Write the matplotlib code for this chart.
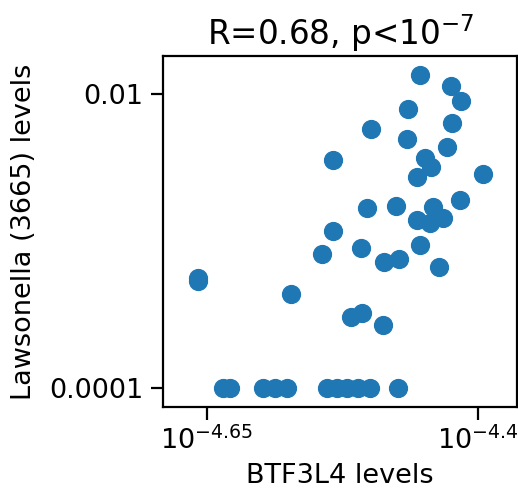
import numpy as np
import matplotlib
matplotlib.use('Agg')
import matplotlib.pyplot as plt
from matplotlib.ticker import NullLocator

# log10 of BTF3L4 levels and Lawsonella (3665) levels
log_btf = [-4.453, -4.4246, -4.4157, -4.4643, -4.4981, -4.424, -4.4655, -4.4286,
           -4.5338, -4.4486, -4.4431, -4.4557, -4.3957, -4.4169, -4.5018, -4.4757,
           -4.4415, -4.4563, -4.444, -4.4326, -4.5338, -4.5436, -4.5079, -4.453,
           -4.4864, -4.4723, -4.4357, -4.6577, -4.6577, -4.5722, -4.5169, -4.507,
           -4.487,
           -4.6352, -4.6285, -4.5984, -4.5873, -4.5762, -4.5394, -4.5301, -4.5209,
           -4.5102, -4.4994, -4.4739]
log_law = [-1.868, -1.941, -2.043, -2.102, -2.236, -2.197, -2.302, -2.361,
           -2.449, -2.435, -2.497, -2.560, -2.540, -2.717, -2.771, -2.762,
           -2.769, -2.857, -2.878, -2.844, -2.928, -3.086, -3.048, -3.025,
           -3.139, -3.123, -3.173, -3.247, -3.270, -3.359, -3.513, -3.486,
           -3.569,
           -4, -4, -4, -4, -4, -4, -4, -4, -4, -4, -4]

x_ticks = [-4.65, -4.4]
x_labels = ['$10^{-4.65}$', '$10^{-4.4}$']
y_ticks = [1e-4, 1e-2]
y_labels = ['0.0001', '0.01']

fig = plt.figure(figsize=(5.18, 4.92), dpi=100)
ax = fig.add_axes([0.315, 0.173, 0.683, 0.713])

ax.scatter(10 ** np.array(log_btf), 10 ** np.array(log_law), s=165, color='#1f77b4')
ax.set_xscale('log')
ax.set_yscale('log')
ax.set_xlim(10 ** -4.690, 10 ** -4.364)
ax.set_ylim(10 ** -4.127, 10 ** -1.739)

ax.set_xticks([10 ** t for t in x_ticks])
ax.set_xticklabels(x_labels)
ax.set_yticks(y_ticks)
ax.set_yticklabels(y_labels)
ax.xaxis.set_minor_locator(NullLocator())
ax.yaxis.set_minor_locator(NullLocator())
ax.tick_params(labelsize=19.5, width=1.6, length=9, pad=5)
for sp in ax.spines.values():
    sp.set_linewidth(1.6)

ax.set_xlabel('BTF3L4 levels', fontsize=19.5, labelpad=6)
ax.set_ylabel('Lawsonella (3665) levels', fontsize=19.5, labelpad=9)
ax.set_title('R=0.68, p<$10^{-7}$', fontsize=23.5, pad=8)

plt.savefig('out.png', dpi=100)
plt.close()
